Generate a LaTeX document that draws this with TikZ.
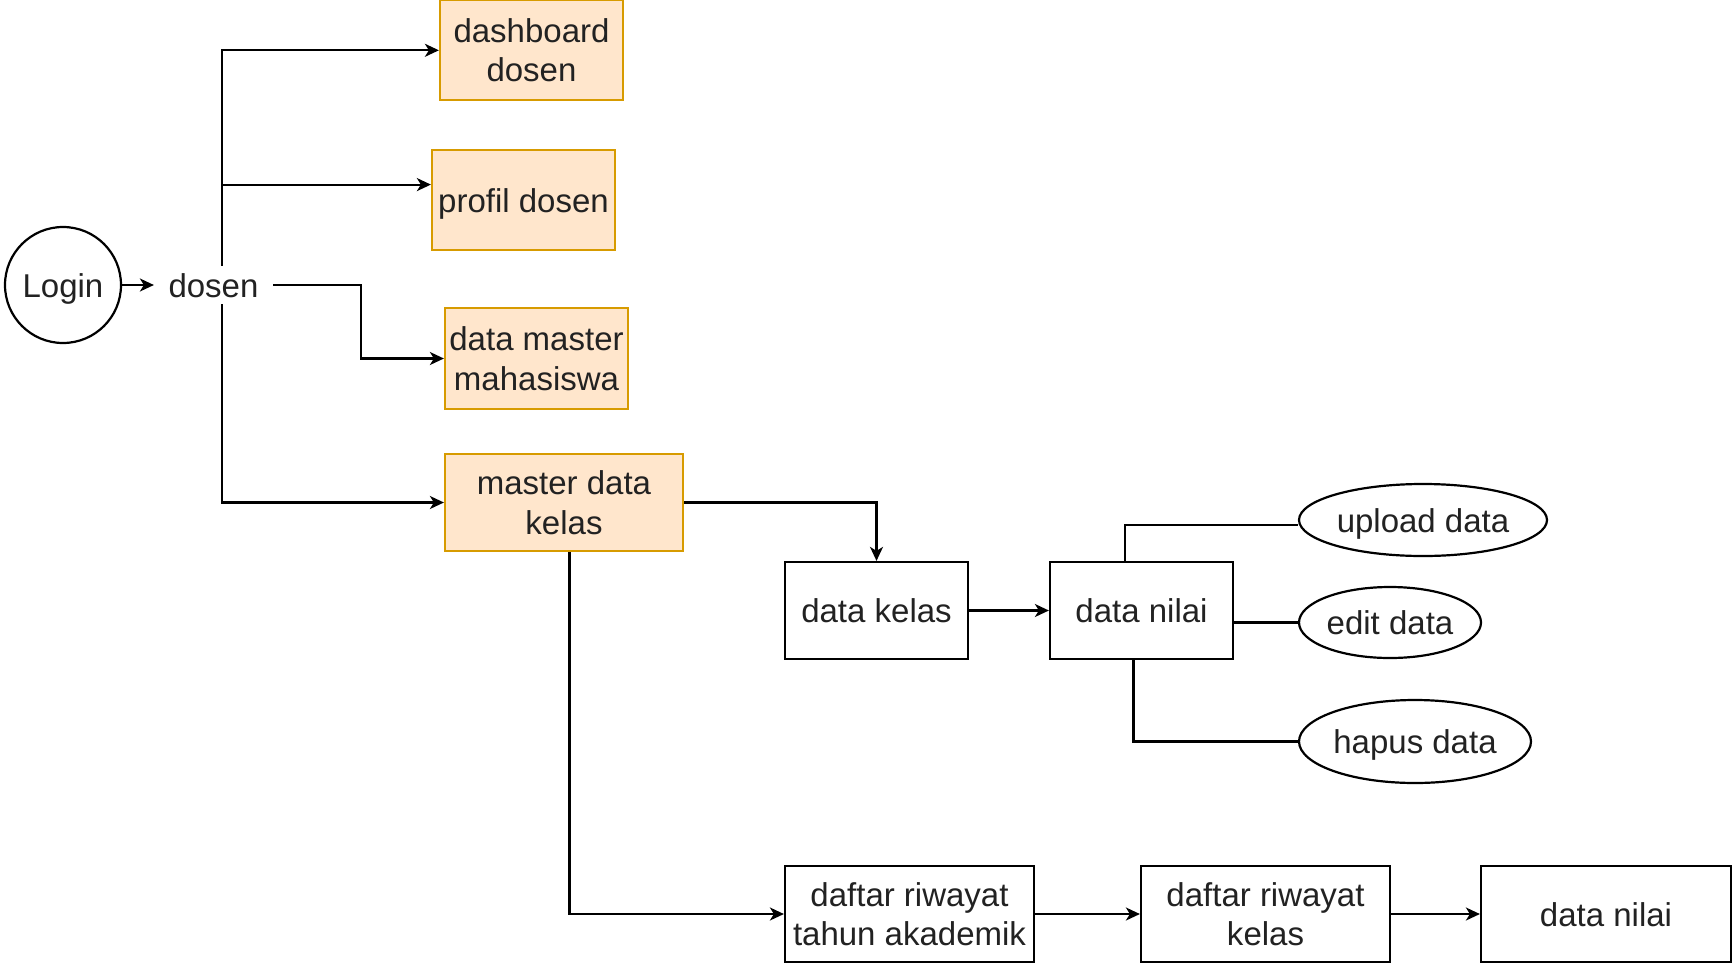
\documentclass[tikz,border=0pt]{standalone}
\usepackage{fontspec}
\setmainfont{Liberation Sans}
\usetikzlibrary{arrows.meta,shapes.geometric}
\definecolor{ofill}{HTML}{FFE6CC}
\definecolor{oline}{HTML}{D79B00}
\definecolor{txtc}{HTML}{222222}
\tikzset{
  base/.style={font=\fontsize{16.5}{19.8}\selectfont, text=txtc, align=center, inner sep=0pt, line width=1.1pt},
  sl/.style={text height=12pt, text depth=0pt},
  obox/.style={base, draw=oline, fill=ofill, rectangle, minimum width=91.5pt, minimum height=50pt},
  wbox/.style={base, draw=black, fill=white, rectangle, minimum width=91.5pt, minimum height=48.5pt},
  ell/.style={base, sl, draw=black, fill=white, ellipse},
  circ/.style={base, sl, draw=black, circle, minimum size=58pt},
  plain/.style={base},
  conn/.style={line width=1.1pt, draw=black},
  arr/.style={conn, -{Stealth[length=7pt,width=6.5pt,inset=2pt]}}
}
\begin{document}
\begin{tikzpicture}[x=0.5pt,y=-0.5pt]
\useasboundingbox (0,0) rectangle (1733,963);
\fill[white] (0,0) rectangle (1733,963);

\node[circ] (login) at (63,285) {Login};
\node[plain, sl, minimum width=58.5pt, minimum height=18pt] (dosen) at (213.5,285) {dosen};

\node[obox] (dash) at (531.5,50.3) {dashboard\\dosen};
\node[obox, sl] (profil) at (523.5,200) {profil dosen};
\node[obox, minimum height=50.5pt] (mhs) at (536.5,358.5) {data master\\mahasiswa};
\node[obox, minimum width=119pt, minimum height=48.5pt] (mdk) at (564,502.5) {master data\\kelas};

\node[wbox, sl] (dk) at (876.5,610.5) {data kelas};
\node[wbox, sl] (dn) at (1141.5,610.5) {data nilai};

\node[ell, minimum width=124pt, minimum height=36pt] (upload) at (1423,520) {upload data};
\node[ell, minimum width=91pt, minimum height=35.5pt] (edit) at (1390,622.5) {edit data};
\node[ell, minimum width=116pt, minimum height=41.5pt] (hapus) at (1415,741.5) {hapus data};

\node[wbox, minimum width=124.5pt, minimum height=48pt] (dt) at (909.5,914) {daftar riwayat\\tahun akademik};
\node[wbox, minimum width=124.5pt, minimum height=48pt] (dkr) at (1265.5,914) {daftar riwayat\\kelas};
\node[wbox, sl, minimum width=125pt, minimum height=48pt] (dn2) at (1606,914) {data nilai};

\coordinate (tr) at (222,0);

\draw[arr] (login.east) -- (dosen.west);
\draw[arr] (dosen.north -| tr) |- (dash.west);
\draw[arr] (dosen.north -| tr) |- ([yshift=7.7pt]profil.west);
\draw[arr] (dosen.south -| tr) |- (mdk.west);
\draw[arr] (dosen.east) -- ++(88,0) |- (mhs.west);

\draw[arr] (mdk.east) -| (dk.north);
\draw[arr] (dk.east) -- (dn.west);

\draw[conn] ([xshift=-8.25pt]dn.north) |- ([yshift=-2.5pt]upload.west);
\draw[conn] (dn.east |- edit.west) -- (edit.west);
\draw[conn] ([xshift=-4pt]dn.south) |- (hapus.west);

\draw[arr] ([xshift=2.75pt]mdk.south) |- (dt.west);
\draw[arr] (dt.east) -- (dkr.west);
\draw[arr] (dkr.east) -- (dn2.west);
\end{tikzpicture}
\end{document}
